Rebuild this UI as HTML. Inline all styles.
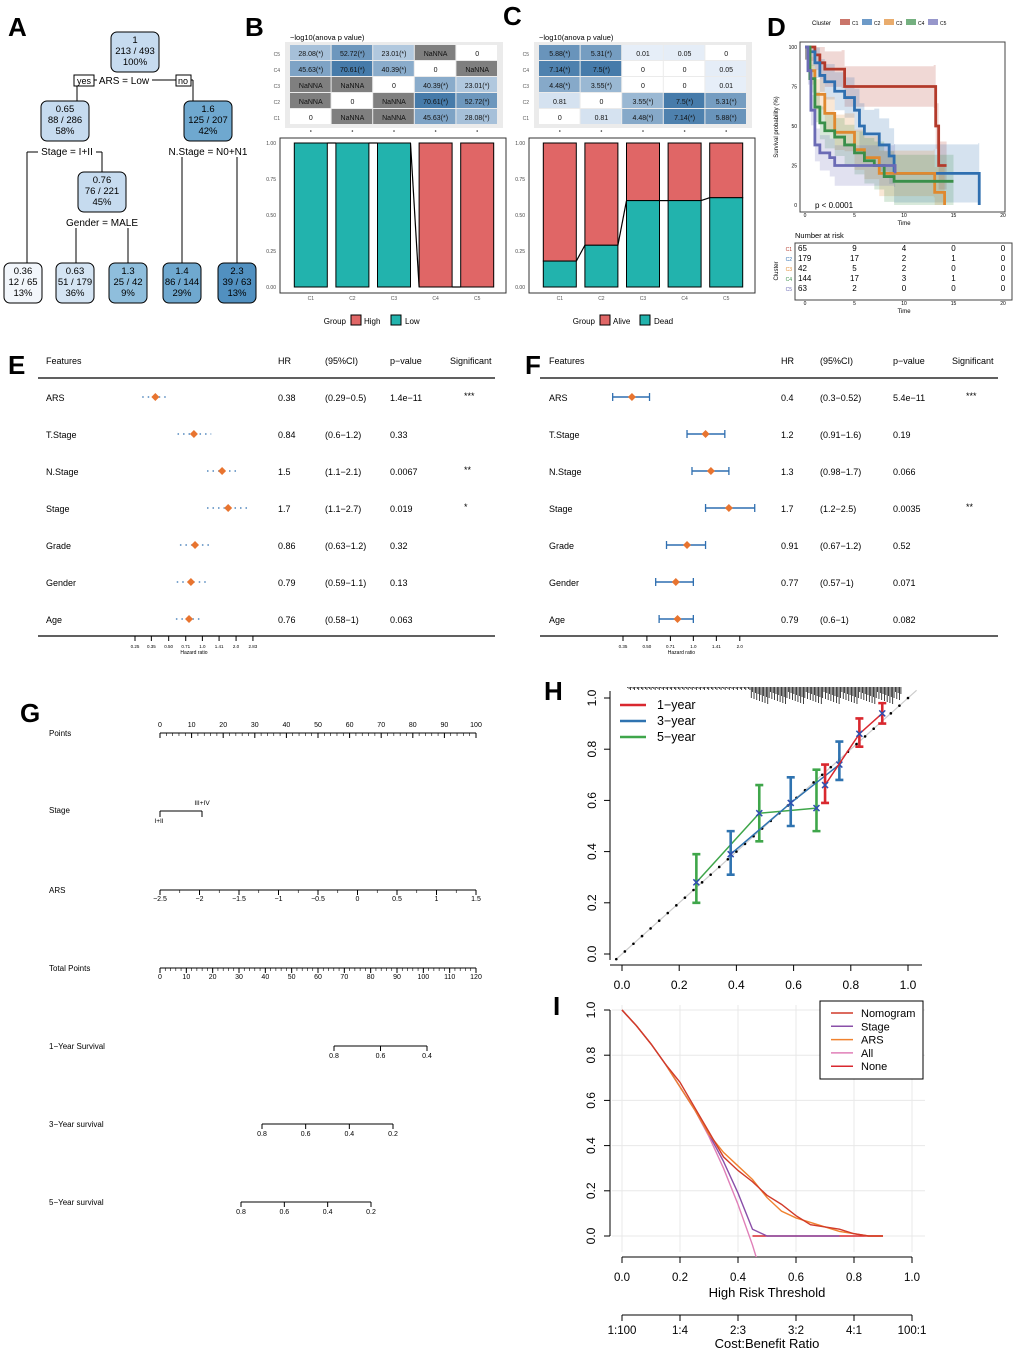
<!DOCTYPE html>
<html><head><meta charset="utf-8"><style>
html,body{margin:0;padding:0;background:#fff}
svg{display:block;font-family:"Liberation Sans",Arial,sans-serif}
</style></head><body>
<svg id="fig" width="1020" height="1355" viewBox="0 0 1020 1355" xmlns="http://www.w3.org/2000/svg">
<g id="A"></g>
<g id="B"></g>
<g id="C"></g>
<g id="D"></g>
<g id="E"></g>
<g id="F"></g>
<g id="G"></g>
<g id="H"></g>
<g id="I"></g>
</svg>
<script>
// ---------- data ----------
const clusters=["C1","C2","C3","C4","C5"];
const heatB=[["0","NaNNA","NaNNA","45.63(*)","28.08(*)"],["NaNNA","0","NaNNA","70.61(*)","52.72(*)"],["NaNNA","NaNNA","0","40.39(*)","23.01(*)"],["45.63(*)","70.61(*)","40.39(*)","0","NaNNA"],["28.08(*)","52.72(*)","23.01(*)","NaNNA","0"]];
const heatC=[["0","0.81","4.48(*)","7.14(*)","5.88(*)"],["0.81","0","3.55(*)","7.5(*)","5.31(*)"],["4.48(*)","3.55(*)","0","0","0.01"],["7.14(*)","7.5(*)","0","0","0.05"],["5.88(*)","5.31(*)","0.01","0.05","0"]];
const lowFrac=[1,1,1,0,0];
const deadFrac=[0.18,0.29,0.60,0.60,0.62];
const kmC1=[[0,100],[0.5,100],[1,95],[1.5,90],[2,86],[3.7,86],[4,75],[13,75],[13.2,50],[13.5,25],[14.3,25]];
const kmC2=[[0,100],[0.5,97],[1,90],[1.5,82],[2,78],[3,72],[4,68],[5,60],[5.5,50],[6,45],[7,45],[7.5,38],[8.5,31],[9,20],[17.5,20],[17.6,0]];
const kmC3=[[0,100],[0.5,85],[1,70],[2,58],[3,46],[4,46],[5,35],[6,30],[7.5,20],[13,20],[13.1,8],[14,8],[14.1,0]];
const kmC4=[[0,100],[0.5,80],[1,62],[1.5,52],[2,47],[3,43],[4,38],[5,33],[6,28],[7,25],[8,18],[9,15],[15,15]];
const kmC5=[[0,100],[0.3,85],[0.6,60],[1,38],[1.5,33],[2.5,30],[3,25],[9,25],[9.1,20]];
const riskTable=[[65,9,4,0,0],[179,17,2,1,0],[42,5,2,0,0],[144,17,3,1,0],[63,2,0,0,0]];
const features=["ARS","T.Stage","N.Stage","Stage","Grade","Gender","Age"];
const hrE=[0.38,0.84,1.5,1.7,0.86,0.79,0.76];
const loE=[0.29,0.6,1.1,1.1,0.63,0.59,0.58];
const hiE=[0.5,1.2,2.1,2.7,1.2,1.1,1];
const pE=["1.4e\u221211","0.33","0.0067","0.019","0.32","0.13","0.063"];
const sigE=["***","","**","*","","",""];
const hrF=[0.4,1.2,1.3,1.7,0.91,0.77,0.79];
const loF=[0.3,0.91,0.98,1.2,0.67,0.57,0.6];
const hiF=[0.52,1.6,1.7,2.5,1.2,1,1];
const pF=["5.4e\u221211","0.19","0.066","0.0035","0.52","0.071","0.082"];
const sigF=["***","","","**","","",""];
const cal1Pred=[0.71,0.83,0.91],cal1Obs=[0.66,0.86,0.94],cal1Lo=[0.59,0.81,0.90],cal1Hi=[0.74,0.92,0.98];
const cal3Pred=[0.38,0.59,0.76],cal3Obs=[0.39,0.59,0.74],cal3Lo=[0.31,0.50,0.68],cal3Hi=[0.48,0.69,0.83];
const cal5Pred=[0.26,0.48,0.68],cal5Obs=[0.28,0.55,0.57],cal5Lo=[0.20,0.44,0.48],cal5Hi=[0.39,0.66,0.72];
const dcaX=[0,0.05,0.1,0.15,0.2,0.25,0.3,0.35,0.4,0.45,0.5,0.55,0.6,0.65,0.7,0.75,0.8,0.85,0.9];
const dcaNomo=[1,0.93,0.85,0.76,0.68,0.57,0.46,0.35,0.29,0.24,0.18,0.14,0.09,0.05,0.04,0.03,0.01,0,0];
const dcaArs=[1,0.93,0.85,0.76,0.66,0.56,0.45,0.37,0.31,0.25,0.17,0.11,0.08,0.06,0.04,0.02,0.01,0,0];
const dcaStage=[1,0.93,0.85,0.76,0.66,0.56,0.45,0.33,0.19,0.03,0,0,0,0,0,0];
const dcaAll=[1,0.93,0.85,0.76,0.66,0.56,0.44,0.30,0.14,-0.04,-0.25];
const dcaNoneX=[0.45,0.9];
const dcaNone=[0,0];

// ---------- helpers ----------
const NS="http://www.w3.org/2000/svg";
function el(p,tag,at,txt){const e=document.createElementNS(NS,tag);for(const k in at)e.setAttribute(k,at[k]);if(txt!==undefined)e.textContent=txt;p.appendChild(e);return e;}
function T(p,x,y,s,size,anchor,extra){const a={x:x,y:y,'font-size':size||9,'text-anchor':anchor||'start'};if(extra)Object.assign(a,extra);return el(p,'text',a,s);}
const svg=document.getElementById('fig');
function letter(ch,x,y){const t=T(svg,x,y,ch,26,'start',{'font-weight':'bold'});}
letter('A',8,36);letter('B',245,36);letter('C',503,25);letter('D',767,36);letter('E',8,374);letter('F',525,374);letter('G',20,722);letter('H',544,700);letter('I',553,1015);

// ---------- A ----------
(function(){const g=document.getElementById('A');
const nodes=[[135,32,["1","213 / 493","100%"],"#c6dbef"],[65,101,["0.65","88 / 286","58%"],"#c6dbef"],[208,101,["1.6","125 / 207","42%"],"#6fa8cf"],[102,172,["0.76","76 / 221","45%"],"#c6dbef"],
[23,263,["0.36","12 / 65","13%"],"#f2f6fb"],[75,263,["0.63","51 / 179","36%"],"#d4e4f3"],[128,263,["1.3","25 / 42","9%"],"#8fbedc"],[182,263,["1.4","86 / 144","29%"],"#6fa8cf"],[237,263,["2.3","39 / 63","13%"],"#5190c0"]];
const ln=(x1,y1,x2,y2)=>el(g,'path',{d:`M${x1} ${y1}L${x2} ${y2}`,stroke:'#000','stroke-width':1,fill:'none'});
ln(77,80,193,80);ln(77,80,77,101);ln(193,80,193,101);
ln(27,152,102,152);ln(27,152,27,263);ln(102,152,102,172);
ln(172,152,237,152);ln(182,152,182,263);ln(237,152,237,263);
ln(76,223,128,223);ln(76,223,76,263);ln(128,223,128,263);
nodes.forEach((n,i)=>{const w=(i>=4)?38:48;const r=el(g,'rect',{x:n[0]-w/2,y:n[1],width:w,height:40,rx:6,fill:n[3],stroke:'#000','stroke-width':1});

n[2].forEach((s,j)=>T(g,n[0],n[1]+11+j*11,s,9.5,'middle'));});
el(g,'rect',{x:74,y:75,width:20,height:11,fill:'#fff',stroke:'#000'});T(g,84,84,'yes',9,'middle');
el(g,'rect',{x:176,y:75,width:15,height:11,fill:'#fff',stroke:'#000'});T(g,183,84,'no',9,'middle');
el(g,'rect',{x:97,y:75,width:55,height:11,fill:'#fff'});T(g,124,84,'ARS = Low',10,'middle');
el(g,'rect',{x:38,y:146,width:58,height:11,fill:'#fff'});T(g,67,155,'Stage = I+II',10,'middle');
el(g,'rect',{x:170,y:146,width:76,height:11,fill:'#fff'});T(g,208,155,'N.Stage = N0+N1',10,'middle');
el(g,'rect',{x:70,y:217,width:64,height:11,fill:'#fff'});T(g,102,226,'Gender = MALE',10,'middle');
})();

// ---------- B & C ----------
function heatBar(gid,x0,heat,maxv,frac,topCol,botCol,legendLabels,title){
const g=document.getElementById(gid);const cw=41.6,ch=16,hy=45;
T(g,x0,40,title,7.5,'start');
el(g,'rect',{x:x0-5,y:hy-3,width:cw*5+10,height:ch*5+6,fill:'#ebebeb'});
for(let r=0;r<5;r++){const ri=4-r;T(g,x0-10,hy+r*ch+11,clusters[ri],5,'end',{fill:'#555'});
for(let c=0;c<5;c++){const s=heat[ri][c];let fill='#fff';
if(s.startsWith('NaN'))fill='#7f7f7f';else{const v=parseFloat(s);if(v>0.005){const t=Math.min(1,v/maxv);fill=`rgb(${Math.round(230-160*t)},${Math.round(238-115*t)},${Math.round(248-78*t)})`;}}
const rc=el(g,'rect',{x:x0+c*cw,y:hy+r*ch,width:cw-1,height:ch-1,fill:fill});
T(g,x0+c*cw+cw/2,hy+r*ch+11,s,7,'middle',{fill:'#111'});}}
for(let c=0;c<5;c++)el(g,'circle',{cx:x0+c*cw+cw/2,cy:hy+5*ch+6,r:0.8,fill:'#333'});
const by0=287,by1=143,bx=x0-10,bw=cw*5+18;
el(g,'rect',{x:bx,y:138,width:bw,height:155,fill:'#fff',stroke:'#333','stroke-width':1});
const ys=v=>by0-(by0-by1)*v;
[0,0.25,0.5,0.75,1].forEach(v=>{T(g,bx-4,ys(v)+2,v.toFixed(2),5,'end',{fill:'#444'});});
let prev=null;
for(let c=0;c<5;c++){const cx=x0+c*cw+cw/2,w=33;
const top=el(g,'rect',{x:cx-w/2,y:ys(1),width:w,height:ys(frac[c])-ys(1),fill:topCol,stroke:'#000','stroke-width':1});
const bot=el(g,'rect',{x:cx-w/2,y:ys(frac[c]),width:w,height:ys(0)-ys(frac[c]),fill:botCol,stroke:'#000','stroke-width':1});
if(prev)el(g,'path',{d:`M${prev[0]} ${prev[1]}L${cx-w/2} ${ys(frac[c])}`,stroke:'#000','stroke-width':1.2,fill:'none'});
prev=[cx+w/2,ys(frac[c])];
T(g,cx,300,clusters[c],5,'middle',{fill:'#555'});}
const lx=x0+58;T(g,lx-2,324,'Group',8,'end');
el(g,'rect',{x:lx+3,y:315,width:10,height:10,fill:topCol,stroke:'#000'});T(g,lx+16,324,legendLabels[0],8);
el(g,'rect',{x:lx+43,y:315,width:10,height:10,fill:botCol,stroke:'#000'});T(g,lx+57,324,legendLabels[1],8);
}
heatBar('B',290,heatB,70,lowFrac,'#e06666','#22b3ad',['High','Low'],'\u2212log10(anova p value)');
heatBar('C',539,heatC,7.5,deadFrac,'#e06666','#22b3ad',['Alive','Dead'],'\u2212log10(anova p value)');

// ---------- D ----------
(function(){const g=document.getElementById('D');
const cols=['#b33a2b','#2f6fb0','#e0892f','#3a8f4a','#6b6bb5'];const data=[kmC1,kmC2,kmC3,kmC4,kmC5];
const xs=t=>805+t*9.9,ys=v=>205-v*1.58;
T(g,812,25,'Cluster',6);clusters.forEach((c,i)=>{el(g,'rect',{x:840+i*22,y:19,width:10,height:6,fill:cols[i],opacity:0.7});T(g,852+i*22,25,c,5);});
el(g,'rect',{x:800,y:42,width:205,height:170,fill:'#fff',stroke:'#444'});
data.forEach((d,i)=>{let up='',lo='';
d.forEach((p,j)=>{const u=Math.min(100,p[1]+8+j*0.8),l=Math.max(0,p[1]-8-j*0.8);
const nx=j<d.length-1?d[j+1][0]:p[0];up+=`${j?'L':'M'}${xs(p[0])} ${ys(u)}L${xs(nx)} ${ys(u)}`;lo=`L${xs(nx)} ${ys(l)}L${xs(p[0])} ${ys(l)}`+lo;});
el(g,'path',{d:up+lo+'Z',fill:cols[i],opacity:0.2});});
data.forEach((d,i)=>{let s='';d.forEach((p,j)=>{s+=j?`H${xs(p[0])}V${ys(p[1])}`:`M${xs(p[0])} ${ys(p[1])}`;});
const pth=el(g,'path',{d:s,stroke:cols[i],'stroke-width':2.8,fill:'none'});});
[0,25,50,75,100].forEach(v=>T(g,797,ys(v)+2,v,5,'end'));
[0,5,10,15,20].forEach(v=>T(g,xs(v),217,v,5,'middle'));
T(g,904,225,'Time',6,'middle');T(g,815,208,'p < 0.0001',8);
T(g,778,127,'Survival probability (%)',6,'middle',{transform:'rotate(-90 778 127)'});
T(g,795,238,'Number at risk',7.5);
el(g,'rect',{x:795,y:243,width:217,height:57,fill:'#fff',stroke:'#444'});
riskTable.forEach((r,i)=>{T(g,792,251+i*10,clusters[i],5,'end',{fill:cols[i]});r.forEach((v,j)=>T(g,j?xs(j*5):798,251+i*10,v,8,j?'middle':'start'));});
[0,5,10,15,20].forEach(v=>T(g,xs(v),305,v,5,'middle'));T(g,904,313,'Time',6,'middle');
T(g,778,271,'Cluster',6,'middle',{transform:'rotate(-90 778 271)'});
})();

// ---------- E & F ----------
function forest(gid,x0,x1,cols,hr,lo,hi,p,sig,lnMin,px0,pxPer,ticks,style){
const g=document.getElementById(gid);
T(g,cols[0],364,'Features',9);T(g,cols[1],364,'HR',9);T(g,cols[2],364,'(95%CI)',9);T(g,cols[3],364,'p\u2212value',9);T(g,cols[4],364,'Significant',9);
el(g,'line',{x1:x0,y1:378,x2:x1,y2:378,stroke:'#000','stroke-width':1.3});el(g,'line',{x1:x0,y1:636,x2:x1,y2:636,stroke:'#000','stroke-width':1.3});
const xs=v=>px0+(Math.log(v)-lnMin)*pxPer;
features.forEach((f,i)=>{const y=397+i*37;
T(g,cols[0],y+4,f,9);T(g,cols[1],y+4,String(hr[i]),9);T(g,cols[2],y+4,`(${lo[i]}\u2212${hi[i]})`,9);T(g,cols[3],y+4,p[i],9);T(g,cols[4]+14,y+2,sig[i],9);
const l=el(g,'line',{x1:xs(lo[i]),y1:y,x2:xs(hi[i]),y2:y,stroke:'#2f6fb0','stroke-width':style?1.5:1.3,'stroke-dasharray':style?'':'1.5 4'});
if(style){el(g,'line',{x1:xs(lo[i]),y1:y-4,x2:xs(lo[i]),y2:y+4,stroke:'#2f6fb0','stroke-width':1.3});el(g,'line',{x1:xs(hi[i]),y1:y-4,x2:xs(hi[i]),y2:y+4,stroke:'#2f6fb0','stroke-width':1.3});}
const c=xs(hr[i]);const d=el(g,'path',{d:`M${c} ${y-4}L${c+4} ${y}L${c} ${y+4}L${c-4} ${y}Z`,fill:'#e8742f'});});
ticks.forEach(t=>{el(g,'line',{x1:xs(t[0]),y1:636,x2:xs(t[0]),y2:641,stroke:'#000'});T(g,xs(t[0]),648,t[1],4.5,'middle');});
T(g,(xs(ticks[0][0])+xs(ticks[ticks.length-1][0]))/2,654,'Hazard ratio',5,'middle');
}
forest('E',38,495,[46,278,325,390,450],hrE,loE,hiE,pE,sigE,Math.log(0.25),135,48.6,[[0.25,'0.25'],[0.35,'0.35'],[0.5,'0.50'],[0.71,'0.71'],[1,'1.0'],[1.41,'1.41'],[2,'2.0'],[2.83,'2.83']],false);
forest('F',540,998,[549,781,820,893,952],hrF,loF,hiF,pF,sigF,Math.log(0.35),623,67,[[0.35,'0.35'],[0.5,'0.50'],[0.71,'0.71'],[1,'1.0'],[1.41,'1.41'],[2,'2.0']],true);

// ---------- G ----------
(function(){const g=document.getElementById('G');
function axis(y,label,a,b,x0,x1,labs,minor,below){T(g,49,y+3,label,8);
el(g,'line',{x1:x0,y1:y,x2:x1,y2:y,stroke:'#000'});
if(minor){for(let k=0;k<=minor;k++){const x=x0+(x1-x0)*k/minor;el(g,'line',{x1:x,y1:y,x2:x,y2:y+3,stroke:'#000','stroke-width':0.6});}}
labs.forEach(v=>{const x=x0+(x1-x0)*(v-a)/(b-a);el(g,'line',{x1:x,y1:y,x2:x,y2:y+5,stroke:'#000'});T(g,x,below?y+11:y-6,String(v).replace('-','\u2212'),7,'middle');});}
axis(733,'Points',0,100,160,476,[0,10,20,30,40,50,60,70,80,90,100],50,false);
T(g,49,813,'Stage',8);el(g,'line',{x1:160,y1:811,x2:202,y2:811,stroke:'#000'});el(g,'line',{x1:160,y1:811,x2:160,y2:817,stroke:'#000'});el(g,'line',{x1:202,y1:811,x2:202,y2:817,stroke:'#000'});
T(g,202,805,'III+IV',6.5,'middle');T(g,159,823,'I+II',6.5,'middle');
axis(890,'ARS',-2.5,1.5,160,476,[-2.5,-2,-1.5,-1,-0.5,0,0.5,1,1.5],16,true);
axis(968,'Total Points',0,120,160,476,[0,10,20,30,40,50,60,70,80,90,100,110,120],60,true);
function surv(y,label,x08,x04,vals,lo,hi){T(g,49,y+3,label,8);el(g,'line',{x1:x08,y1:y,x2:x04,y2:y,stroke:'#000'});
vals.forEach(v=>{const x=x08+(x04-x08)*(lo-v)/(lo-hi);el(g,'line',{x1:x,y1:y,x2:x,y2:y+5,stroke:'#000'});T(g,x,y+12,v,7,'middle');});}
surv(1046,'1\u2212Year Survival',334,427,[0.8,0.6,0.4],0.8,0.4);
surv(1124,'3\u2212Year survival',262,393,[0.8,0.6,0.4,0.2],0.8,0.2);
surv(1202,'5\u2212Year survival',241,371,[0.8,0.6,0.4,0.2],0.8,0.2);
})();

// ---------- H ----------
(function(){const g=document.getElementById('H');
const xs=v=>622+v*286,ys=v=>954-v*256;
el(g,'path',{d:'M610 691V960',stroke:'#000',fill:'none'});el(g,'path',{d:`M610 965H922`,stroke:'#000',fill:'none'});
[0,0.2,0.4,0.6,0.8,1].forEach(v=>{el(g,'line',{x1:604,y1:ys(v),x2:610,y2:ys(v),stroke:'#000'});T(g,593,ys(v),v.toFixed(1),12,'middle',{transform:`rotate(-90 593 ${ys(v)})`,'dominant-baseline':'middle'});
el(g,'line',{x1:xs(v),y1:965,x2:xs(v),y2:971,stroke:'#000'});T(g,xs(v),989,v.toFixed(1),12,'middle');});
el(g,'line',{x1:xs(-0.02),y1:ys(-0.02),x2:xs(1.03),y2:ys(1.03),stroke:'#ccc','stroke-width':1.2});
for(let v=-0.02;v<1.03;v+=0.03)el(g,'circle',{cx:xs(v),cy:ys(v),r:1.3,fill:'#000'});
for(let k=0;k<200;k++){const v=0.02+k*0.0048;const h=(v>0.45)?5+((k*7)%13):1+(k%3);el(g,'line',{x1:xs(v),y1:687,x2:xs(v),y2:687+h,stroke:'#111','stroke-width':0.8});}
function series(pred,obs,lo,hi,col,name){let s='';pred.forEach((p,i)=>{s+=(i?'L':'M')+xs(p)+' '+ys(obs[i]);});
const l=el(g,'path',{d:s,stroke:col,'stroke-width':1.5,fill:'none'});
pred.forEach((p,i)=>{const x=xs(p);el(g,'path',{d:`M${x} ${ys(lo[i])}V${ys(hi[i])}M${x-4} ${ys(lo[i])}h8M${x-4} ${ys(hi[i])}h8`,stroke:col,'stroke-width':2.6,fill:'none'});
el(g,'path',{d:`M${x-3} ${ys(obs[i])-3}l6 6M${x+3} ${ys(obs[i])-3}l-6 6`,stroke:'#2f4fb0','stroke-width':1.5});});}
series(cal5Pred,cal5Obs,cal5Lo,cal5Hi,'#3fa64a','5-year');series(cal3Pred,cal3Obs,cal3Lo,cal3Hi,'#2f73b0','3-year');series(cal1Pred,cal1Obs,cal1Lo,cal1Hi,'#d9282f','1-year');
[['1\u2212year','#d9282f'],['3\u2212year','#2f73b0'],['5\u2212year','#3fa64a']].forEach((e,i)=>{el(g,'line',{x1:620,y1:705+i*16,x2:646,y2:705+i*16,stroke:e[1],'stroke-width':2.5});T(g,657,709+i*16,e[0],12.5);});
})();

// ---------- I ----------
(function(){const g=document.getElementById('I');
const xs=v=>622+v*290,ys=v=>1236-v*226;
[0,0.2,0.4,0.6,0.8,1].forEach(v=>{el(g,'line',{x1:xs(v),y1:1005,x2:xs(v),y2:1252,stroke:'#e8e8e8'});el(g,'line',{x1:612,y1:ys(v),x2:925,y2:ys(v),stroke:'#e8e8e8'});});
el(g,'path',{d:`M610 ${ys(1)}V${ys(0)}`,stroke:'#000',fill:'none'});
[0,0.2,0.4,0.6,0.8,1].forEach(v=>{el(g,'line',{x1:604,y1:ys(v),x2:610,y2:ys(v),stroke:'#000'});T(g,592,ys(v),v.toFixed(1),12,'middle',{transform:`rotate(-90 592 ${ys(v)})`,'dominant-baseline':'middle'});});
el(g,'path',{d:`M${xs(0)} 1257H${xs(1)}`,stroke:'#000',fill:'none'});
[0,0.2,0.4,0.6,0.8,1].forEach(v=>{el(g,'line',{x1:xs(v),y1:1257,x2:xs(v),y2:1263,stroke:'#000'});T(g,xs(v),1281,v.toFixed(1),11.5,'middle');});
T(g,767,1297,'High Risk Threshold',13,'middle');
el(g,'path',{d:`M${xs(0)} 1315H${xs(1)}`,stroke:'#000',fill:'none'});
['1:100','1:4','2:3','3:2','4:1','100:1'].forEach((s,i)=>{const x=xs(i*0.2);el(g,'line',{x1:x,y1:1315,x2:x,y2:1321,stroke:'#000'});T(g,x,1334,s,11.5,'middle');});
T(g,767,1348,'Cost:Benefit Ratio',13,'middle');
const cp=el(g,'clipPath',{id:'iclip'});el(cp,'rect',{x:600,y:1000,width:330,height:257});
function line(xv,vals,col,name,w){let s='';vals.forEach((v,i)=>{s+=(i?'L':'M')+xs(xv[i])+' '+ys(v);});
const p=el(g,'path',{d:s,stroke:col,'stroke-width':w||1.4,fill:'none','clip-path':'url(#iclip)'});}
line(dcaNoneX,dcaNone,'#d9282f','none');
line(dcaX,dcaAll,'#e07fb8','all');line(dcaX,dcaStage,'#8a4fa8','stage');line(dcaX,dcaArs,'#f0822f','ars');line(dcaX,dcaNomo,'#d13a2a','nomogram');
el(g,'rect',{x:820,y:1001,width:103,height:78,fill:'#fff',stroke:'#000'});
[['Nomogram','#d13a2a'],['Stage','#8a4fa8'],['ARS','#f0822f'],['All','#e07fb8'],['None','#d9282f']].forEach((e,i)=>{const y=1013+i*13.3;el(g,'line',{x1:831,y1:y,x2:853,y2:y,stroke:e[1],'stroke-width':1.5});T(g,861,y+4,e[0],11);});
})();
</script>
</body></html>
